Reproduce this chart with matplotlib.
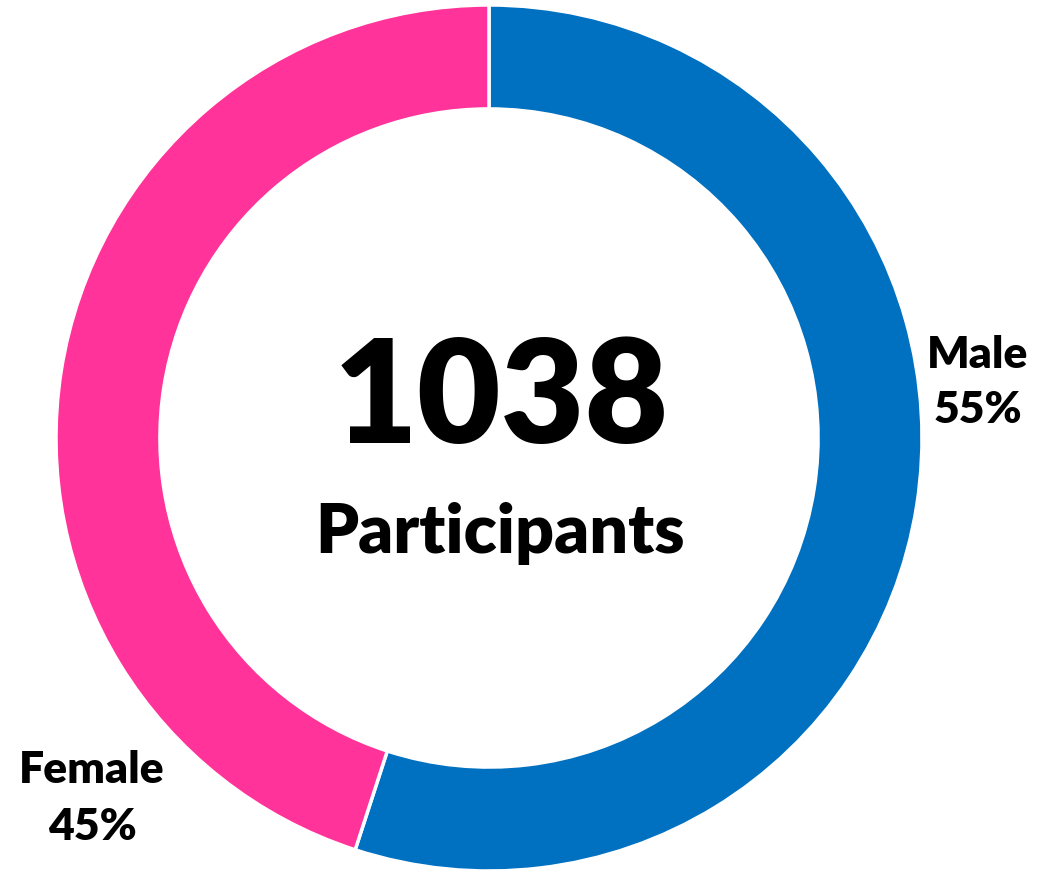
import matplotlib
matplotlib.use("Agg")
import matplotlib.pyplot as plt

labels = ["Male", "Female"]
shares = [55, 45]
colors = ["#0070C0", "#FF3399"]
total = 1038
center_caption = "Participants"

FONT = ["Lato", "DejaVu Sans"]

fig = plt.figure(figsize=(10.5, 8.74), dpi=100)
W, H = 1050, 874
cx, cy, R = 489, 438, 433
ax = fig.add_axes([(cx - R) / W, (H - cy - R) / H, 2 * R / W, 2 * R / H])

ax.pie(shares, colors=colors, startangle=90, counterclock=False, radius=1.0,
       wedgeprops=dict(width=0.24, edgecolor="white", linewidth=2.5))
ax.set_xlim(-1, 1)
ax.set_ylim(-1, 1)
ax.set_aspect("equal")
ax.axis("off")

def py(pix):
    return (cy - pix) / R

def px(pix):
    return (pix - cx) / R

ax.text(px(501), py(443), str(total), ha="center", va="baseline", fontsize=104,
        fontweight="heavy", family=FONT, color="black")
ax.text(px(500), py(553), center_caption, ha="center", va="baseline", fontsize=49,
        fontweight="heavy", family=FONT, color="black")

label_pos = {"Male": (978, 368, 423), "Female": (92, 783, 840)}
for lab, val in zip(labels, shares):
    x, b1, b2 = label_pos[lab]
    ax.text(px(x), py(b1), lab, ha="center", va="baseline", fontsize=32,
            fontweight="heavy", family=FONT, color="black")
    ax.text(px(x), py(b2), f"{val}%", ha="center", va="baseline", fontsize=32,
            fontweight="heavy", family=FONT, color="black")

fig.savefig("out.png", dpi=100, facecolor="white")
